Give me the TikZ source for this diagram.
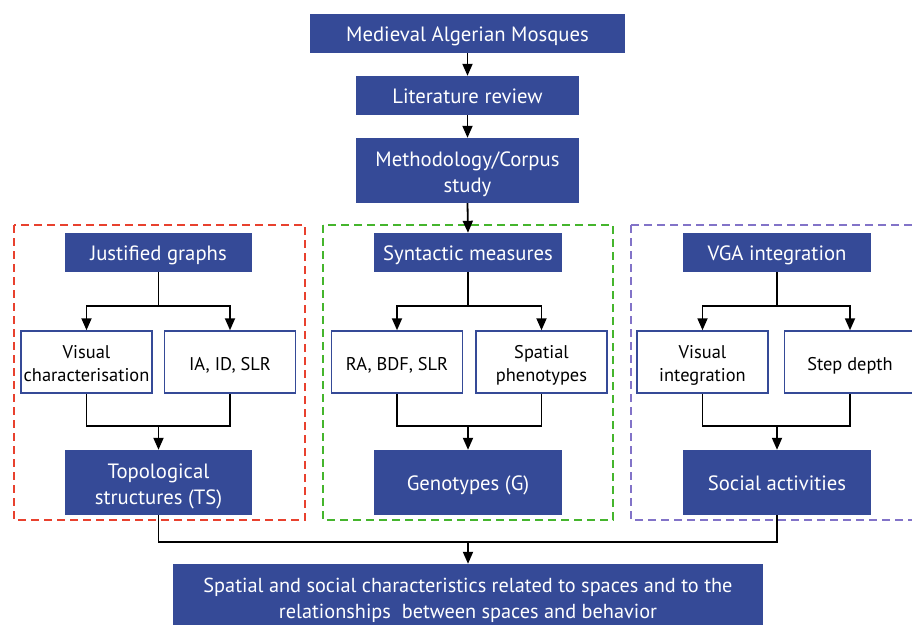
\documentclass[tikz,border=0pt]{standalone}
\usepackage{fontspec}
\setmainfont{PT Sans}
\usetikzlibrary{arrows.meta}
\definecolor{boxblue}{HTML}{354A97}
\definecolor{dred}{HTML}{E8412E}
\definecolor{dgreen}{HTML}{45B52D}
\definecolor{dpurple}{HTML}{8273C8}
\begin{document}
\begin{tikzpicture}[x=1pt,y=-1pt,
  bluebox/.style={fill=boxblue,text=white,inner sep=0pt,align=center,minimum height=39pt,
    font=\fontsize{20.7}{26}\selectfont},
  whitebox/.style={draw=boxblue,line width=1.5pt,fill=white,text=black,inner sep=0pt,align=center,
    minimum width=131pt,minimum height=62pt,font=\fontsize{18.4}{23}\selectfont},
  oneline/.style={text height=16pt,text depth=0pt},
  twoblue/.style={text height=44pt,text depth=0pt},
  twowhite/.style={text height=38pt,text depth=0pt},
  conn/.style={line width=1.8pt,black},
  arr/.style={conn,-{Triangle[length=12pt,width=10pt]}},
  dbox/.style={line width=2pt,dash pattern=on 8pt off 5pt}]
\useasboundingbox (0,0) rectangle (912,624);
% dashed groups
\draw[dbox,dred] (14,225) rectangle (305,520);
\draw[dbox,dgreen] (323,225) rectangle (613,520);
\draw[dbox,dpurple] (631,225) rectangle (925,520);
% top chain
\node[bluebox,oneline,minimum width=315pt] (mam) at (467.5,33.5) {Medieval Algerian Mosques};
\node[bluebox,oneline,minimum width=223pt] (lit) at (467.5,95.5) {Literature review};
\node[bluebox,twoblue,minimum width=223pt,minimum height=65pt] (meth) at (467.5,170.5) {Methodology/Corpus\\study};
% left column
\node[bluebox,oneline,minimum width=187pt] (jg) at (158.5,252.5) {Justified graphs};
\node[whitebox,twowhite] (vc) at (86.5,362) {Visual\\characterisation};
\node[whitebox,oneline] (ia) at (230,362) {IA, ID, SLR};
\node[bluebox,twoblue,text height=43pt,minimum width=187pt,minimum height=65pt] (ts) at (158.5,482.5) {Topological\\structures (TS)};
% middle column
\node[bluebox,oneline,minimum width=188pt] (sm) at (468,252.5) {Syntactic measures};
\node[whitebox,oneline] (ra) at (397,362) {RA, BDF, SLR};
\node[whitebox,twowhite] (sp) at (541.5,362) {Spatial\\phenotypes};
\node[bluebox,oneline,minimum width=188pt,minimum height=65pt] (gen) at (468,482.5) {Genotypes (G)};
% right column
\node[bluebox,oneline,minimum width=188pt] (vga) at (777,252.5) {VGA integration};
\node[whitebox,twowhite] (vi) at (702.5,362) {Visual\\integration};
\node[whitebox,oneline] (sd) at (850,362) {Step depth};
\node[bluebox,oneline,minimum width=188pt,minimum height=65pt] (sa) at (777,482.5) {Social activities};
% bottom
\node[bluebox,twoblue,text height=42pt,minimum width=590pt,minimum height=66pt,font=\fontsize{20.3}{26}\selectfont] (fin) at (468,597) {Spatial and social characteristics related to spaces and to the\\relationships\ \ between spaces and behavior};
% top arrows
\draw[arr] (mam.south) -- (lit.north);
\draw[arr] (lit.south) -- (meth.north);
\draw[arr] (meth.south) -- (sm.north);
% branches
\coordinate (b1) at (158.5,306);
\coordinate (b2) at (468,306);
\coordinate (b3) at (777,306);
\draw[conn] (jg.south) -- (b1);
\draw[arr] (b1) -| (vc.north);
\draw[arr] (b1) -| (ia.north);
\draw[conn] (sm.south) -- (b2);
\draw[arr] (b2) -| (ra.north);
\draw[arr] (b2) -| (sp.north);
\draw[conn] (vga.south) -- (b3);
\draw[arr] (b3) -| (vi.north);
\draw[arr] (b3) -| (sd.north);
% merges
\coordinate (m1) at (158.5,426);
\coordinate (m2) at (468,426);
\coordinate (m3) at (777,426);
\draw[conn] (vc.south) |- (m1) -| (ia.south);
\draw[arr] (m1) -- (ts.north);
\draw[conn] (ra.south) |- (m2) -| (sp.south);
\draw[arr] (m2) -- (gen.north);
\draw[conn] (vi.south) |- (m3) -| (sd.south);
\draw[arr] (m3) -- (sa.north);
% final
\coordinate (f1) at (468,542);
\draw[conn] (ts.south) |- (f1) -| (sa.south);
\draw[arr] (f1) -- (fin.north);
\end{tikzpicture}
\end{document}
